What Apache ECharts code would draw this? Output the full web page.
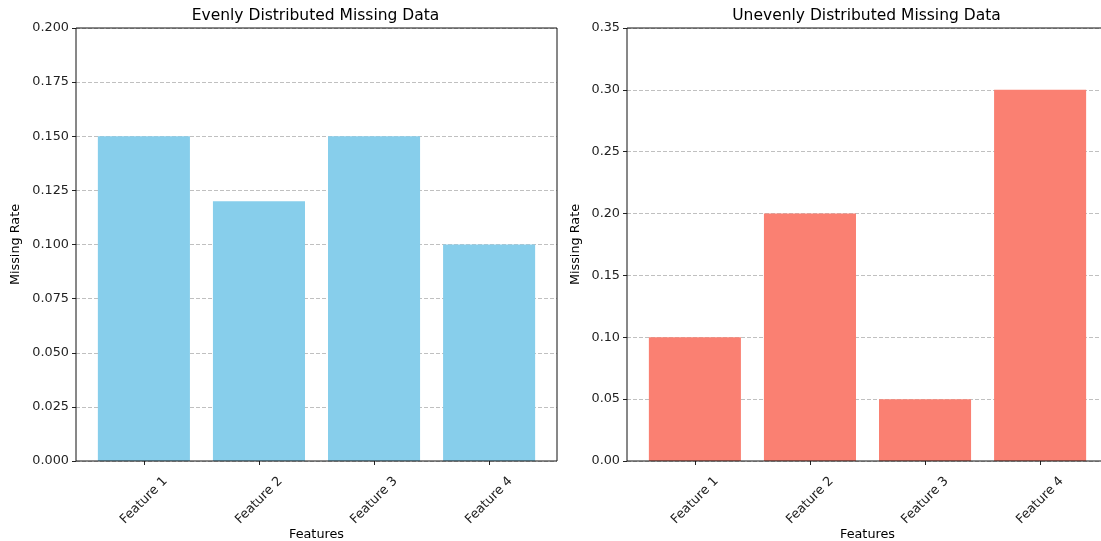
<!DOCTYPE html>
<html><head><meta charset="utf-8">
<script src="https://cdn.jsdelivr.net/npm/echarts@6/dist/echarts.min.js"></script>
<style>html,body{margin:0;padding:0;background:#fff}#c{width:1101px;height:541px}</style>
</head><body><div id="c"></div>
<script>
const categories = ['Feature 1', 'Feature 2', 'Feature 3', 'Feature 4'];
const evenValues = [0.15, 0.12, 0.15, 0.10];
const unevenValues = [0.10, 0.20, 0.05, 0.30];
const leftTitle = 'Evenly Distributed Missing Data';
const rightTitle = 'Unevenly Distributed Missing Data';
const xName = 'Features';
const yName = 'Missing Rate';

const FONT = 'DejaVu Sans';
const TOP = 28, H = 433, W = 481;
const UNIT = W / 4.18, OFF = 0.09 * UNIT;
const lefts = [76, 627];
const yGaps = [53.5, 45];

const chart = echarts.init(document.getElementById('c'), null, {renderer: 'canvas'});
const grids = [], xAxes = [], yAxes = [], series = [], titles = [];
const specs = [
  {title: leftTitle, data: evenValues, color: '#87CEEB', max: 0.2, interval: 0.025, dec: 3},
  {title: rightTitle, data: unevenValues, color: '#FA8072', max: 0.35, interval: 0.05, dec: 2}
];
specs.forEach((s, i) => {
  const L = lefts[i];
  titles.push({text: s.title, left: L + W / 2 - 1, top: 8, padding: 0, textAlign: 'center',
    textStyle: {fontFamily: FONT, fontSize: 15.5, fontWeight: 'normal', color: '#000'}});
  grids.push({left: L, top: TOP, width: W, height: H, show: true, borderColor: '#111', borderWidth: 1,
    backgroundColor: 'transparent', z: 5, outerBoundsMode: 'none', containLabel: false});
  grids.push({left: L + OFF, top: TOP, width: 4 * UNIT, height: H, show: false,
    outerBoundsMode: 'none', containLabel: false});
  const gF = 2 * i, gB = 2 * i + 1;
  xAxes.push({type: 'category', gridIndex: gF, data: categories, show: false});
  xAxes.push({type: 'category', gridIndex: gB, data: categories,
    axisLine: {show: false},
    axisTick: {show: true, alignWithLabel: true, length: 4, lineStyle: {color: '#222'}},
    axisLabel: {rotate: 45, align: 'center', verticalAlign: 'middle', margin: 39.5,
      fontFamily: FONT, fontSize: 12.8, color: '#222'},
    name: xName, nameLocation: 'middle', nameGap: 67, nameMoveOverlap: false,
    nameTextStyle: {fontFamily: FONT, fontSize: 12.8, color: '#000', verticalAlign: 'top'}
  });
  yAxes.push({type: 'value', gridIndex: gF, min: 0, max: s.max, interval: s.interval,
    axisLine: {show: false},
    axisTick: {show: true, length: 4, lineStyle: {color: '#222'}},
    axisLabel: {fontFamily: FONT, fontSize: 12.8, color: '#222', margin: 7,
      formatter: v => v.toFixed(s.dec)},
    splitLine: {show: true, lineStyle: {color: '#b0b0b0', type: [4, 2], width: 0.8}},
    name: yName, nameLocation: 'middle', nameGap: yGaps[i], nameMoveOverlap: false,
    nameTextStyle: {fontFamily: FONT, fontSize: 12.8, color: '#000'}
  });
  yAxes.push({type: 'value', gridIndex: gB, min: 0, max: s.max, show: false, splitLine: {show: false}});
  series.push({type: 'bar', xAxisIndex: gB, yAxisIndex: gB, data: s.data, barCategoryGap: '20%',
    itemStyle: {color: s.color}, z: 2, silent: true});
});
chart.setOption({animation: false, title: titles, grid: grids, xAxis: xAxes, yAxis: yAxes, series: series});
</script></body></html>
